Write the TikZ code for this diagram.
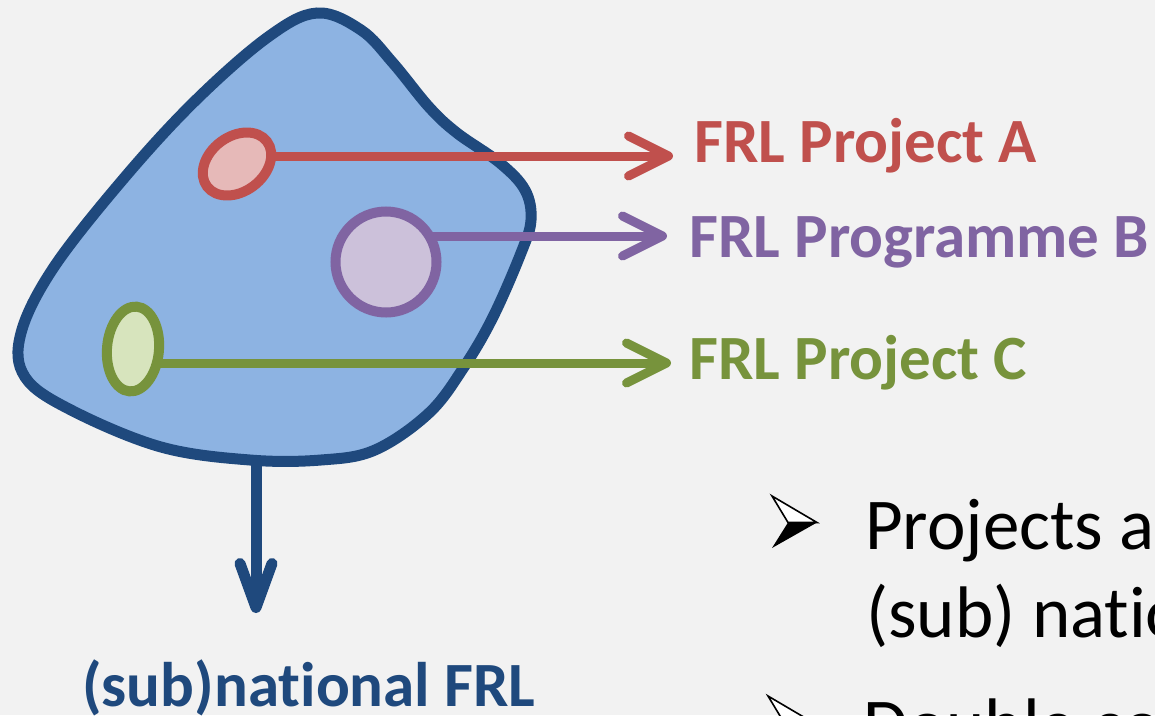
\documentclass[tikz,border=0pt]{standalone}
\usepackage{fontspec}
\setmainfont{Carlito}[Ligatures=NoCommon]
\usetikzlibrary{arrows.meta,shapes.geometric,backgrounds}
\definecolor{fond}{HTML}{F2F2F2}
\definecolor{bleuF}{HTML}{1F497D}
\definecolor{bleuC}{HTML}{8DB3E2}
\definecolor{rougeA}{HTML}{C0504D}
\definecolor{rougeAc}{HTML}{E6B9B8}
\definecolor{violetB}{HTML}{8064A2}
\definecolor{violetBc}{HTML}{CCC1DA}
\definecolor{vertC}{HTML}{77933C}
\definecolor{vertCc}{HTML}{D7E4BD}
\tikzset{
  lbl/.style = {inner sep=0pt, anchor=base west,
    font=\bfseries\fontsize{63}{76}\selectfont},% etiquette FRL
  corps/.style = {inner sep=0pt, anchor=base west,
    font=\fontsize{73}{88}\selectfont},% texte noir
  puce/.pic = {% puce fleche
    \draw [line width=1.6pt, line join=miter, fill=white]
      (0,-53) -- (45,-26.5) -- (16,-26.5) -- cycle;
    \fill [black] (16,-26.5) -- (45,-26.5) -- (0,-1) -- cycle;
  },
  proj/.style = {ellipse, inner sep=0pt, line width=10pt},
  proj_a/.style = {proj, draw=rougeA, fill=rougeAc,
    minimum width=75pt, minimum height=55pt, rotate=37},% projet A
  proj_b/.style = {proj, circle, draw=violetB, fill=violetBc,
    minimum size=101pt},% programme B
  proj_c/.style = {proj, draw=vertC, fill=vertCc,
    minimum width=52pt, minimum height=85pt, rotate=-5},% projet C
  fleche/.style = {line width=9pt,
    -{Straight Barb[length=40pt,width=40pt,round]}},
  fleche_d/.style = {line width=11pt, draw=bleuF,
    -{Straight Barb[length=44pt,width=32pt,round]}},
  blob/.style = {line width=11pt, draw=bleuF, fill=bleuC}
}
\begin{document}
\begin{tikzpicture}[x=1pt,y=-1pt]
\useasboundingbox (0,0) rectangle (1155,715);
\clip (0,0) rectangle (1155,715);
% les projets
\node [proj_a] (pA) at (237,164) {};
\node [proj_b] (pB) at (386,262) {};
\node [proj_c] (pC) at (133,349) {};
% etiquettes
\node [lbl, text=rougeA] (lA) at (694,162) {FRL Project A};
\node [lbl, text=violetB] (lB) at (689,257) {FRL Programme B};
\node [lbl, text=vertC] (lC) at (689,379) {FRL Project C};
\node [lbl, text=bleuF] (lN) at (82,706) {(sub)national FRL};
% texte a droite
\pic (p1) at (772,549) {puce};
\node [corps] (t1) at (865,549) {Projects a};
\node [corps] (t2) at (866,637) {(sub) natio};
\pic (p2) at (768,749) {puce};
\node [corps] (t3) at (863,749) {Double co};
\coordinate (tA) at (673,156);
\coordinate (tB) at (667,236);
\coordinate (tC) at (671,363);
\coordinate (bas) at (256,458);
\coordinate (tN) at (256,613);
\begin{scope}[on background layer]
\fill [fond] (0,0) rectangle (1155,715);
\draw [blob] plot [smooth cycle, tension=0.6] coordinates {
  (317,13) (361,30) (393,63) (429,107) (457,133) (500,163) (525,190)
  (531,220) (521,253) (493,317) (464,367) (429,413) (375,450) (321,460)
  (250,460) (161,447) (71,410) (25,377) (21,333) (54,267) (125,177)
  (196,100) (268,37)};
\draw [fleche, rougeA] (pA |- tA) -- (tA);
\draw [fleche, violetB] (pB |- tB) -- (tB);
\draw [fleche, vertC] (pC |- tC) -- (tC);
\draw [fleche_d] (bas) -- (tN);
\end{scope}
\end{tikzpicture}
\end{document}
